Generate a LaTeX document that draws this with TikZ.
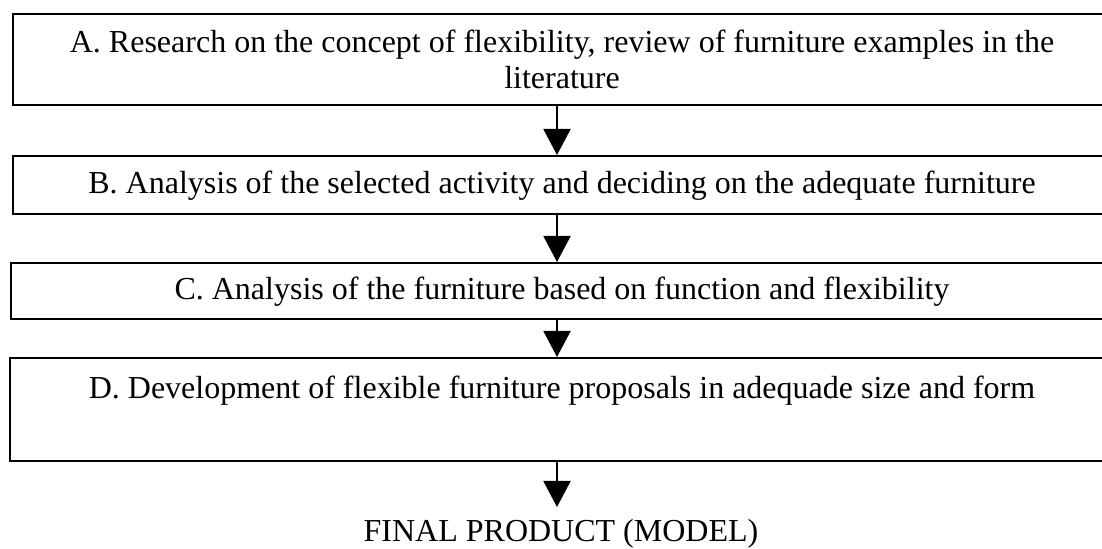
\documentclass[tikz,border=0pt]{standalone}
\usepackage{fontspec}
\setmainfont{Liberation Serif}
\usetikzlibrary{arrows.meta}

\begin{document}
\begin{tikzpicture}[x=0.5pt, y=-0.5pt,
		stage/.style={draw, line width=1pt, rectangle, anchor=north west, inner sep=0pt, minimum width=549pt},
		stagetext/.style={anchor=base, inner sep=0pt, font=\fontsize{16pt}{19pt}\selectfont},
		flow/.style={-{Triangle[length=13pt, width=13.5pt]}, line width=1pt}]
		\clip (0,0) rectangle (1102,549);
		\def\cx{562};
		
		\coordinate(axis) at (557,0);
		
		\node[stage, minimum height=45.5pt] (box A) at (12,13) {};
		\node[stage, minimum height=29pt] (box B) at (12,155) {};
		\node[stage, minimum height=28pt] (box C) at (10,262) {};
		\node[stage, minimum height=51.5pt] (box D) at (9,357) {};
		
		\node[stagetext] (text A1) at (\cx,53) {A. Research on the concept of flexibility, review of furniture examples in the};
		\node[stagetext] (text A2) at (\cx,89) {literature};
		\node[stagetext] (text B) at (\cx,194) {B. Analysis of the selected activity and deciding on the adequate furniture};
		\node[stagetext] (text C) at (\cx,300) {C. Analysis of the furniture based on function and flexibility};
		\node[stagetext] (text D) at (\cx,399) {D. Development of flexible furniture proposals in adequade size and form};
		\node[stagetext] (final) at (561,541) {FINAL PRODUCT (MODEL)};
		
		\coordinate(final tip) at (557,507);
		
		\draw [flow] (box A.south -| axis) -- (box B.north -| axis);
		\draw [flow] (box B.south -| axis) -- (box C.north -| axis);
		\draw [flow] (box C.south -| axis) -- (box D.north -| axis);
		\draw [flow] (box D.south -| axis) -- (final tip);
	\end{tikzpicture}
\end{document}
